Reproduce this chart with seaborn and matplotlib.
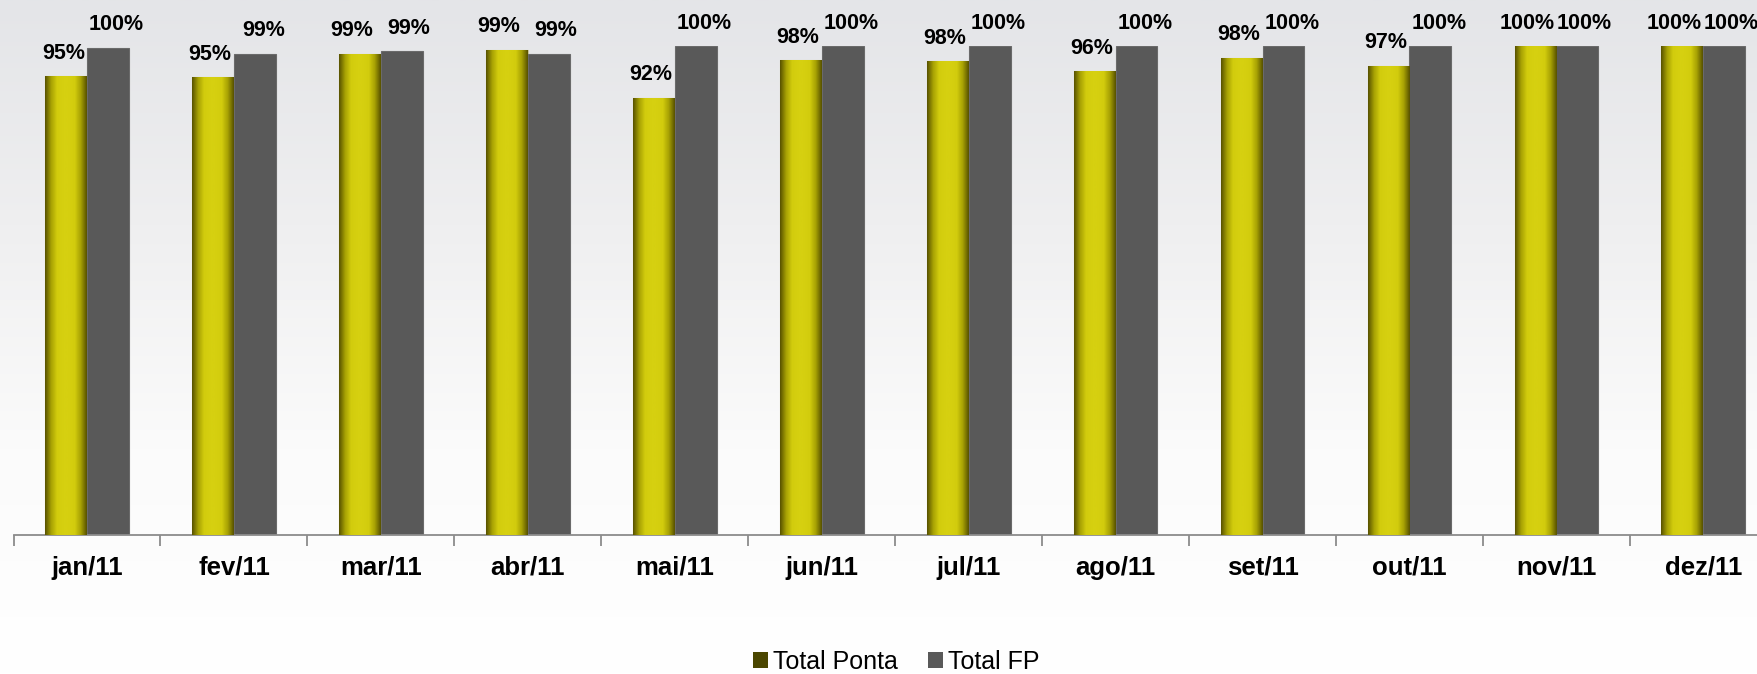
import numpy as np
import pandas as pd
import seaborn as sns
import matplotlib.pyplot as plt
from matplotlib.patches import Patch
from matplotlib.colors import LinearSegmentedColormap

# values (fraction of 1)
meses = ['jan/11', 'fev/11', 'mar/11', 'abr/11', 'mai/11', 'jun/11',
         'jul/11', 'ago/11', 'set/11', 'out/11', 'nov/11', 'dez/11']
total_ponta = [0.954, 0.952, 0.988, 0.994, 0.921, 0.978,
               0.977, 0.961, 0.982, 0.970, 1.000, 1.000]
total_fp = [0.997, 0.988, 0.992, 0.988, 1.000, 1.000,
            1.000, 1.000, 1.000, 1.000, 1.000, 1.000]
series = ['Total Ponta', 'Total FP']

df = pd.DataFrame({
    'mes': meses * 2,
    'valor': total_ponta + total_fp,
    'serie': ['Total Ponta'] * len(meses) + ['Total FP'] * len(meses),
})

plt.rcParams['font.family'] = ['Liberation Sans', 'DejaVu Sans']

fig = plt.figure(figsize=(17.58, 6.74), dpi=100)

# background: light grey fading to white
bg = fig.add_axes([0, 0, 1, 1], zorder=-10)
grad = np.linspace(0, 1, 256).reshape(-1, 1)
bg_cmap = LinearSegmentedColormap.from_list('bg', ['#e4e5e8', '#efeff0', '#fbfbfb', '#ffffff'])
bg.imshow(grad, aspect='auto', cmap=bg_cmap, extent=(0, 1, 0, 1))
bg.set_xlim(0, 1)
bg.set_ylim(0, 1)
bg.axis('off')

ax = fig.add_axes([0.0077, 0.2062, 1.003, 0.7255])
ax.set_facecolor('none')

sns.barplot(data=df, x='mes', y='valor', hue='serie', hue_order=series,
            palette={'Total Ponta': '#d4ce0e', 'Total FP': '#595959'},
            width=0.57, gap=0, saturation=1, ax=ax, legend=False)

ax.set_ylim(0.25, 1.0)
ax.set_xlim(-0.5, len(meses) - 0.5)

# shading on the yellow bars (dark edges, bright middle)
shade = LinearSegmentedColormap.from_list(
    'shade', ['#5a5400', '#a8a204', '#d2cc0d', '#d6d010', '#d6d010',
              '#d2cc0d', '#a8a204', '#5a5400'])
hgrad = np.linspace(0, 1, 64).reshape(1, -1)
n = len(meses)
ponta_bars = ax.patches[:n]
fp_bars = ax.patches[n:2 * n]
for p in ponta_bars:
    x0 = p.get_x()
    w = p.get_width()
    h = p.get_height()
    im = ax.imshow(hgrad, aspect='auto', cmap=shade,
                   extent=(x0, x0 + w, 0.25, h), zorder=3)
    im.set_clip_path(p)
    p.set_edgecolor('#c8c49a')
    p.set_linewidth(0.8)
for p in fp_bars:
    p.set_edgecolor('#6a6a6a')
    p.set_linewidth(0.8)

# data labels, pushed apart when both bars are about the same height
for pp, pf, vp, vf in zip(ponta_bars, fp_bars, total_ponta, total_fp):
    close = abs(vp - vf) < 0.015
    dxp, dxf = (-6, 5) if close else (-2, 6)
    ax.annotate(f'{vp:.0%}', (pp.get_x() + pp.get_width() / 2, pp.get_height()),
                xytext=(dxp, 9), textcoords='offset points', ha='center', va='bottom',
                fontsize=15.5, fontweight='bold', annotation_clip=False, zorder=5)
    ax.annotate(f'{vf:.0%}', (pf.get_x() + pf.get_width() / 2, pf.get_height()),
                xytext=(dxf, 9), textcoords='offset points', ha='center', va='bottom',
                fontsize=15.5, fontweight='bold', annotation_clip=False, zorder=5)

# axes styling
for s in ['left', 'right', 'top']:
    ax.spines[s].set_visible(False)
ax.spines['bottom'].set_color('#8c8c8c')
ax.spines['bottom'].set_linewidth(1.3)
ax.set_yticks([])
ax.set_xlabel('')
ax.set_ylabel('')
ax.set_xticks(range(n))
ax.set_xticklabels(meses, fontsize=18.5, fontweight='bold')
ax.set_xticks(np.arange(-0.5, n, 1), minor=True)
ax.tick_params(axis='x', which='major', length=0, pad=15)
ax.tick_params(axis='x', which='minor', length=8, color='#8c8c8c', width=1.3)

handles = [Patch(facecolor='#4a4600', edgecolor='none'),
           Patch(facecolor='#595959', edgecolor='none')]
fig.legend(handles, series, loc='center', bbox_to_anchor=(0.51, 0.018),
           ncol=2, frameon=False, fontsize=18, handlelength=0.6, handleheight=0.6,
           handletextpad=0.2, columnspacing=1.2)

fig.savefig('out.png', dpi=100)
